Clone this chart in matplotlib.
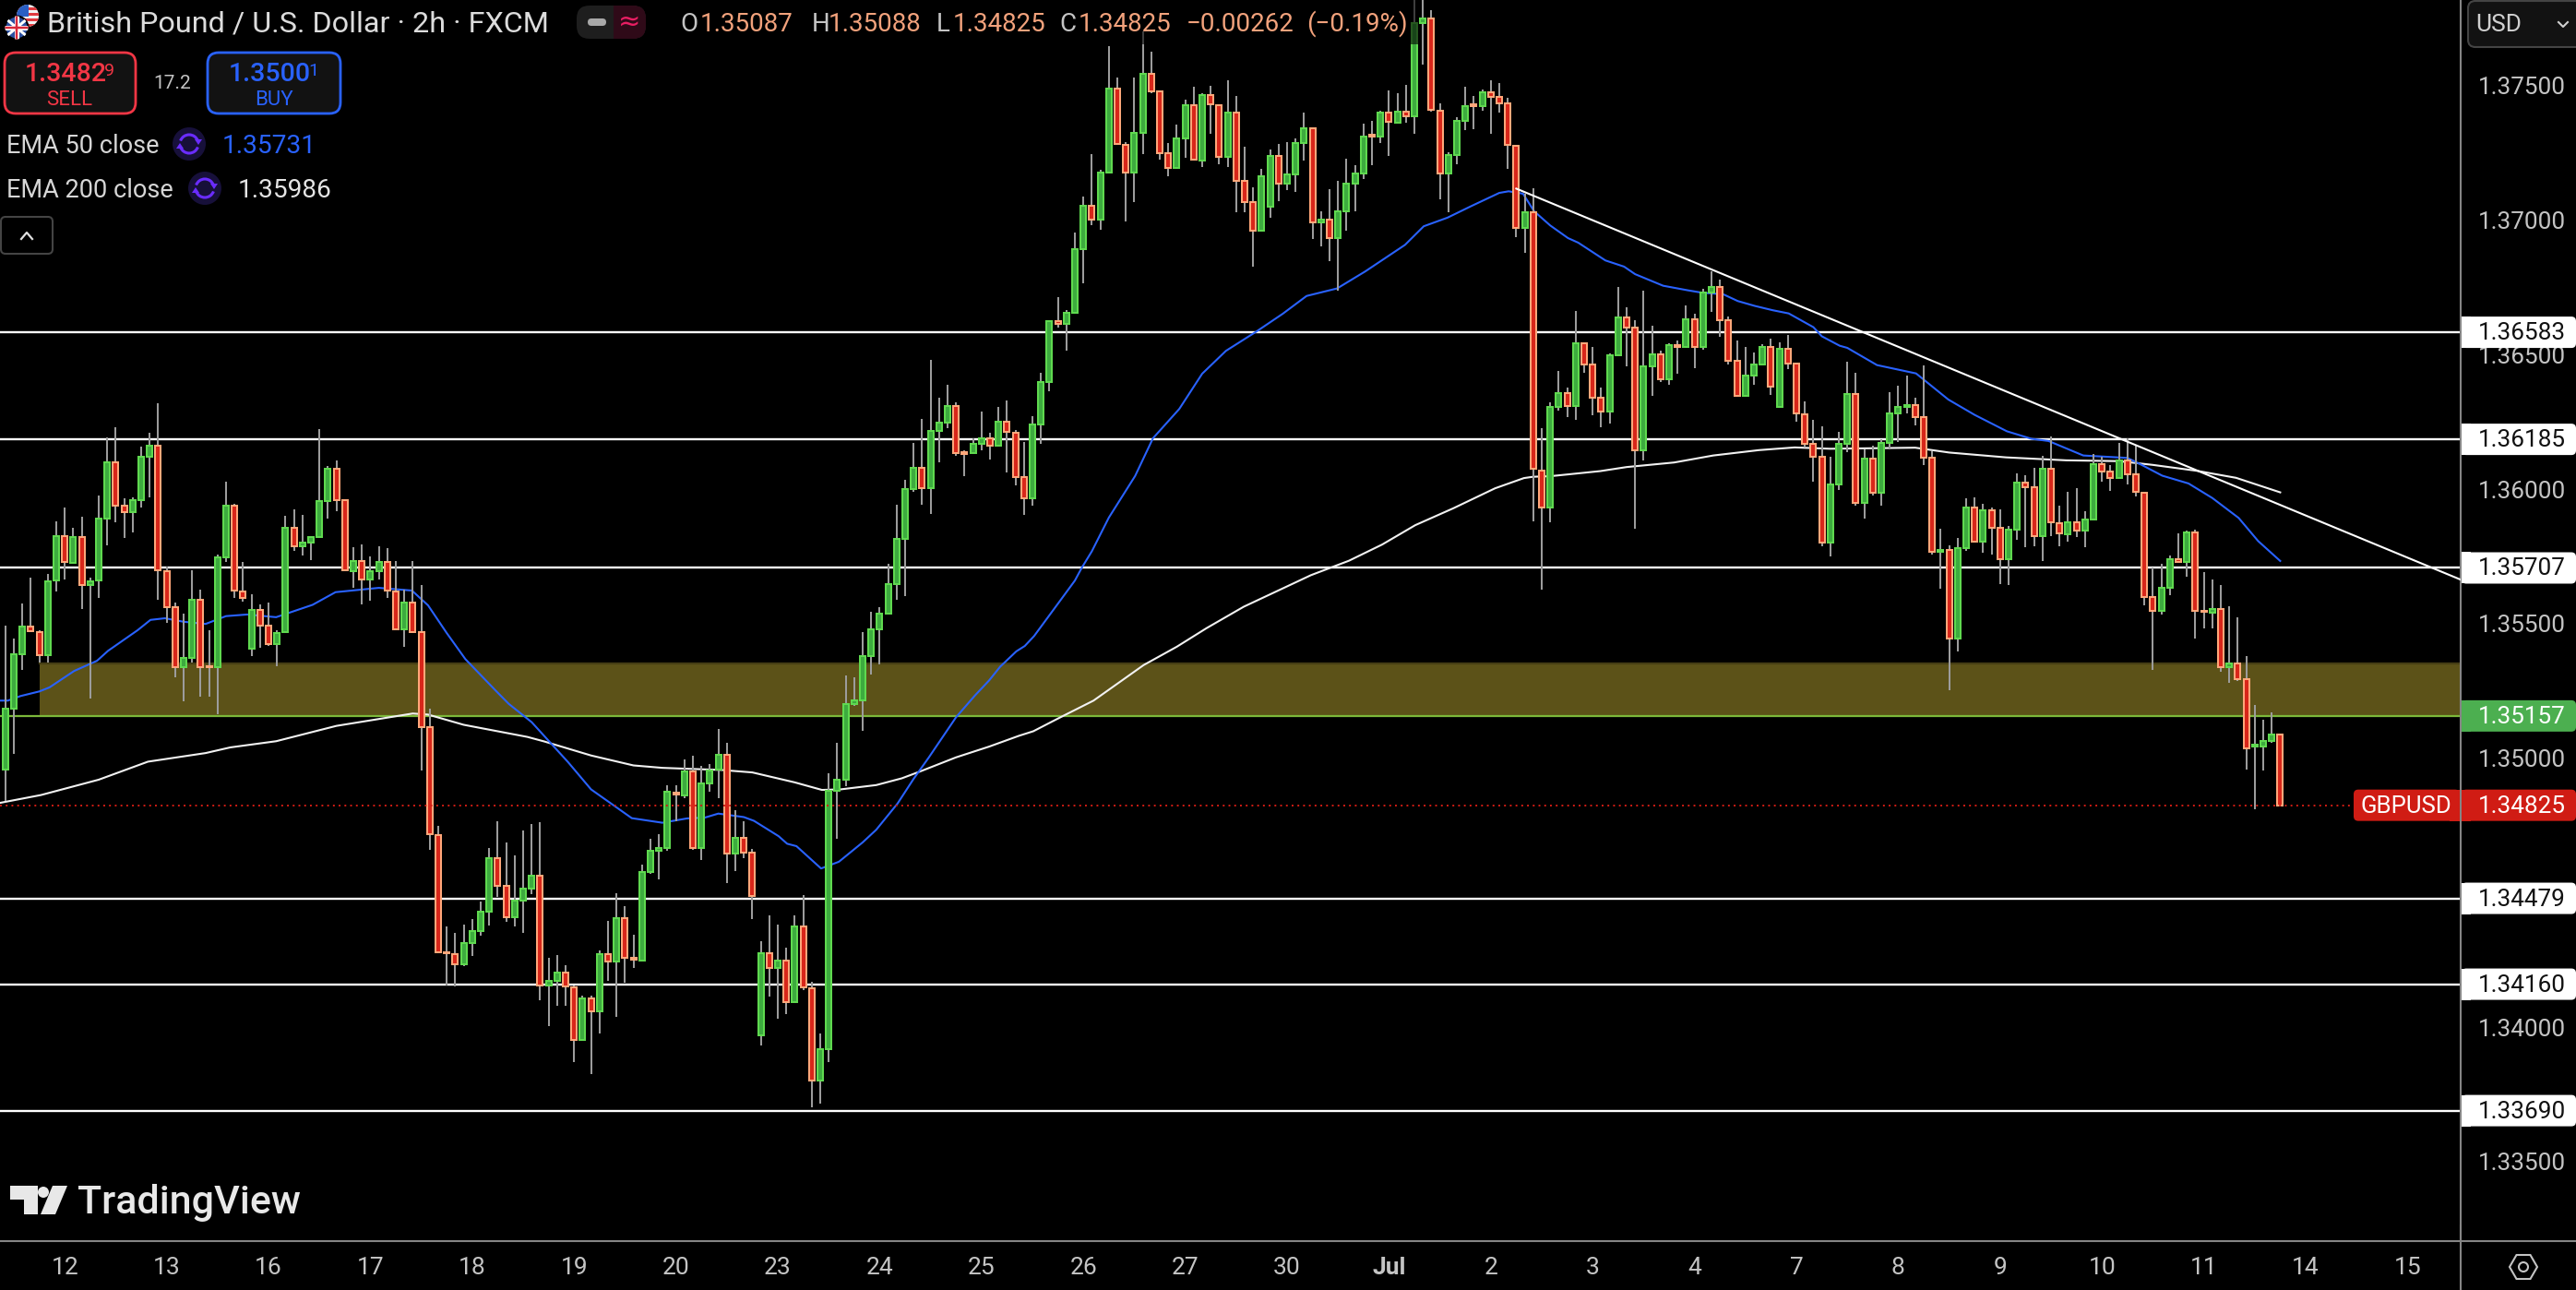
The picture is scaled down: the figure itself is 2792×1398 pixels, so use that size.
import numpy as np
import matplotlib
matplotlib.use('Agg')
import matplotlib.pyplot as plt
from matplotlib.lines import Line2D
from matplotlib.patches import Arc, Circle, FancyBboxPatch, Polygon, Rectangle, RegularPolygon

plt.rcParams['font.family'] = ['Roboto', 'DejaVu Sans']

# GBPUSD 2h candles, price x 1e5
opens = [
    134959, 135185, 135387, 135488, 135468, 135382, 135659, 135825, 135726, 135822,
    135642, 135659, 135891, 136099, 135937, 135913, 135960, 136121, 136161, 135694,
    135560, 135337, 135374, 135588, 135343, 135337, 135747, 135938, 135619, 135408,
    135551, 135491, 135425, 135467, 135856, 135788, 135801, 135823, 135957, 136077,
    135959, 135696, 135732, 135665, 135696, 135728, 135619, 135480, 135579, 135468,
    135116, 134714, 134278, 134271, 134235, 134314, 134358, 134430, 134628, 134525,
    134409, 134471, 134516, 134563, 134154, 134173, 134203, 134148, 133954, 134107,
    134060, 134271, 134245, 134405, 134257, 134249, 134577, 134655, 134667, 134871,
    134862, 134952, 134667, 134907, 134956, 135012, 134644, 134703, 134648, 133971,
    134275, 134219, 134247, 134095, 134374, 134145, 133801, 133919, 134879, 134921,
    135202, 135215, 135379, 135478, 135537, 135646, 135815, 136000, 136078, 136004,
    136216, 136248, 136308, 136137, 136134, 136169, 136189, 136160, 136252, 136208,
    136046, 135967, 136241, 136399, 136623, 136615, 136656, 136892, 137054, 137002,
    137177, 137489, 137279, 137178, 137324, 137544, 137477, 137248, 137195, 137304,
    137428, 137222, 137464, 137426, 137236, 137399, 137145, 137067, 136960, 137051,
    137237, 137134, 137169, 137287, 137341, 136991, 137001, 136932, 137033, 137136,
    137174, 137316, 137312, 137399, 137363, 137403, 137387, 137733, 137749, 137408,
    137174, 137243, 137370, 137429, 137425, 137475, 137458, 137433, 137275, 136972,
    137029, 136070, 135932, 136305, 136356, 136309, 136541, 136463, 136339, 136289,
    136498, 136637, 136599, 136145, 136457, 136500, 136409, 136534, 136528, 136631,
    136529, 136731, 136751, 136627, 136476, 136347, 136423, 136464, 136528, 136306,
    136521, 136465, 136279, 136168, 136119, 135802, 136017, 136169, 136353, 135949,
    136113, 135987, 136172, 136282, 136307, 136312, 136267, 136116, 135767, 135773,
    135445, 135781, 135931, 135805, 135921, 135855, 135739, 135850, 136023, 136006,
    135826, 136075, 135875, 135833, 135876, 135847, 135886, 136092, 136065, 136042,
    136107, 136054, 135988, 135598, 135548, 135632, 135739, 135730, 135839, 135549,
    135541, 135554, 135339, 135351, 135292, 135044, 135044, 135064, 135087,
]
closes = [
    135185, 135385, 135488, 135471, 135382, 135657, 135825, 135728, 135822, 135642,
    135657, 135890, 136099, 135939, 135913, 135959, 136120, 136161, 135697, 135562,
    135337, 135371, 135588, 135339, 135339, 135746, 135938, 135622, 135596, 135551,
    135494, 135425, 135465, 135856, 135788, 135801, 135822, 135954, 136077, 135960,
    135697, 135732, 135665, 135696, 135730, 135622, 135480, 135579, 135470, 135116,
    134716, 134279, 134274, 134235, 134313, 134357, 134429, 134628, 134527, 134409,
    134470, 134515, 134563, 134154, 134171, 134203, 134150, 133954, 134107, 134060,
    134271, 134245, 134405, 134259, 134250, 134577, 134655, 134667, 134875, 134866,
    134952, 134667, 134906, 134955, 135012, 134644, 134703, 134650, 134487, 134275,
    134219, 134247, 134095, 134374, 134147, 133801, 133918, 134878, 134920, 135201,
    135214, 135380, 135479, 135538, 135647, 135815, 136001, 136078, 136004, 136216,
    136248, 136308, 136134, 136132, 136169, 136189, 136160, 136252, 136212, 136046,
    135967, 136241, 136399, 136626, 136615, 136656, 136891, 137054, 137002, 137177,
    137489, 137282, 137178, 137324, 137544, 137479, 137250, 137195, 137303, 137428,
    137223, 137466, 137429, 137236, 137399, 137147, 137068, 136962, 137162, 137237,
    137134, 137169, 137286, 137341, 136991, 137002, 136932, 137033, 137135, 137174,
    137309, 137311, 137399, 137365, 137403, 137387, 137733, 137749, 137409, 137174,
    137241, 137369, 137422, 137424, 137475, 137459, 137435, 137278, 136972, 137029,
    136075, 135932, 136305, 136356, 136310, 136541, 136464, 136341, 136289, 136498,
    136637, 136601, 136145, 136456, 136500, 136409, 136536, 136529, 136631, 136529,
    136730, 136751, 136629, 136477, 136347, 136421, 136463, 136528, 136381, 136521,
    136467, 136280, 136170, 136121, 135802, 136017, 136168, 136353, 135949, 136113,
    135987, 136172, 136281, 136305, 136312, 136268, 136118, 135767, 135773, 135445,
    135780, 135931, 135805, 135922, 135856, 135739, 135850, 136023, 136007, 135826,
    136075, 135878, 135834, 135876, 135847, 135886, 136093, 136065, 136042, 136107,
    136055, 135990, 135599, 135548, 135632, 135739, 135730, 135839, 135546, 135545,
    135554, 135339, 135351, 135293, 135038, 135049, 135063, 135087, 134825,
]
highs = [
    135494, 135444, 135576, 135671, 135476, 135684, 135879, 135930, 135857, 135896,
    135671, 135977, 136191, 136231, 135965, 135968, 136157, 136208, 136320, 135713,
    135579, 135536, 135699, 135625, 135476, 135756, 136029, 135945, 135730, 135610,
    135570, 135579, 135476, 135902, 135926, 135905, 135825, 136222, 136085, 136105,
    135959, 135785, 135795, 135751, 135788, 135782, 135734, 135625, 135734, 135644,
    135185, 134747, 134373, 134349, 134383, 134402, 134468, 134665, 134764, 134685,
    134639, 134730, 134756, 134761, 134259, 134267, 134229, 134156, 134116, 134116,
    134284, 134396, 134497, 134451, 134342, 134605, 134699, 134719, 134901, 134898,
    134996, 135008, 134973, 134977, 135110, 135056, 134807, 134764, 134661, 134318,
    134417, 134380, 134297, 134417, 134490, 134170, 133975, 134945, 135056, 135308,
    135302, 135470, 135545, 135562, 135724, 135942, 136033, 136173, 136262, 136481,
    136341, 136389, 136324, 136143, 136190, 136287, 136211, 136304, 136330, 136219,
    136176, 136271, 136433, 136628, 136712, 136665, 136954, 137088, 137246, 137186,
    137645, 137531, 137291, 137531, 137702, 137627, 137477, 137288, 137354, 137446,
    137495, 137472, 137498, 137428, 137521, 137463, 137273, 137122, 137190, 137262,
    137282, 137290, 137302, 137400, 137341, 137033, 137114, 137147, 137227, 137203,
    137358, 137367, 137407, 137483, 137470, 137501, 137860, 137860, 137781, 137433,
    137253, 137383, 137496, 137463, 137485, 137518, 137508, 137453, 137275, 137098,
    137120, 136225, 136322, 136440, 136379, 136663, 136541, 136530, 136376, 136505,
    136753, 136676, 136628, 136736, 136609, 136513, 136543, 136551, 136684, 136653,
    136743, 136811, 136779, 136642, 136553, 136530, 136509, 136539, 136560, 136545,
    136573, 136465, 136326, 136259, 136234, 136119, 136213, 136474, 136434, 136148,
    136162, 136185, 136361, 136385, 136423, 136341, 136459, 136141, 135853, 135790,
    135819, 135967, 135970, 135944, 135933, 135925, 135864, 136059, 136050, 136079,
    136124, 136196, 135939, 135990, 136005, 135918, 136131, 136119, 136091, 136173,
    136190, 136162, 135988, 135708, 135724, 135752, 135836, 135847, 135851, 135693,
    135664, 135642, 135565, 135525, 135379, 135199, 135144, 135171, 135088,
]
lows = [
    134842, 135016, 135328, 135471, 135356, 135356, 135619, 135664, 135721, 135556,
    135222, 135594, 135791, 135876, 135818, 135839, 135930, 135968, 135588, 135503,
    135299, 135211, 135356, 135228, 135227, 135162, 135728, 135594, 135582, 135378,
    135410, 135416, 135342, 135465, 135770, 135755, 135736, 135822, 135890, 135917,
    135697, 135633, 135570, 135585, 135665, 135596, 135480, 135414, 135470, 134954,
    134659, 134276, 134156, 134153, 134227, 134265, 134339, 134377, 134484, 134390,
    134373, 134350, 134493, 134099, 134004, 134079, 134079, 133870, 133954, 133827,
    133977, 134171, 134038, 134165, 134219, 134244, 134570, 134548, 134655, 134767,
    134851, 134659, 134621, 134875, 134851, 134535, 134579, 134630, 134402, 133933,
    134114, 134030, 134050, 134093, 134139, 133702, 133716, 133870, 134699, 134896,
    135194, 135101, 135310, 135347, 135537, 135590, 135604, 135990, 135943, 135908,
    136101, 136228, 136123, 136048, 136131, 136143, 136110, 136157, 136061, 136015,
    135904, 135939, 136169, 136363, 136602, 136514, 136655, 136766, 136980, 136964,
    137177, 137279, 136996, 137067, 137245, 137472, 137223, 137164, 137193, 137233,
    137220, 137197, 137319, 137207, 137197, 137029, 137029, 136827, 136958, 137009,
    137072, 137111, 137105, 137220, 136930, 136901, 136846, 136737, 136960, 137033,
    137151, 137203, 137288, 137239, 137361, 137363, 137319, 137577, 137403, 137077,
    137029, 137207, 137334, 137338, 137407, 137319, 137400, 137190, 136938, 136878,
    135880, 135627, 135876, 136293, 136267, 136259, 136434, 136276, 136229, 136245,
    136497, 136456, 135853, 136108, 136348, 136397, 136387, 136428, 136527, 136449,
    136519, 136658, 136565, 136463, 136344, 136346, 136387, 136459, 136349, 136306,
    136445, 136250, 136153, 136027, 135787, 135750, 135996, 136137, 135939, 135890,
    135976, 135939, 136147, 136176, 136281, 136236, 136091, 135756, 135630, 135253,
    135396, 135770, 135804, 135765, 135758, 135647, 135642, 135811, 135784, 135787,
    135734, 135824, 135787, 135805, 135823, 135784, 135885, 136027, 135993, 136039,
    136017, 135973, 135567, 135327, 135533, 135605, 135727, 135674, 135445, 135484,
    135482, 135322, 135279, 135287, 134959, 134810, 134954, 135056, 134825,
]

ema50_bars = [
    -0.6, 0.3, 1.8, 4, 5.2, 8.1, 10.8, 12.1, 15.6, 17.1, 18.8, 21, 23.6, 26, 28.5, 31.9, 36.2,
    38.9, 44, 47.9, 49.8, 52, 54.2, 57.8, 59.3, 62, 66.3, 69, 73.8, 77.4, 80.3, 82.4, 84, 87,
    88.2, 91.1, 92.1, 93.2, 96.1, 98.2, 101, 102.6, 105.1, 107, 108.8, 112, 114.2, 115.9, 117.2,
    119.1, 120.1, 121.2, 124, 126, 126.8, 128, 130, 133.1, 135.2, 138.3, 141, 143.8, 147.4,
    150.5, 153.3, 156.9, 160.2, 164.9, 167.1,
    169.9, 172.7, 176, 177.1, 178.8, 180.1, 182, 184.1, 185.3, 188.5, 190.7, 192, 195.3, 198.2,
    199.9, 202.4, 204.1, 206.1, 208.2, 210.1, 213, 214, 216.1, 217, 220.5, 225.1, 228.9, 232,
    235.8, 238.7, 240.7, 244.8, 250, 251.5, 254.1, 257.2, 260, 263.1, 265.4, 268,
]
ema50_vals = [
    135214, 135214, 135231, 135248, 135263, 135324, 135362, 135399, 135476, 135514, 135520,
    135507, 135499, 135528, 135534, 135524, 135570, 135617, 135633, 135623, 135568, 135465,
    135368, 135250, 135202, 135134, 134985, 134884, 134777, 134760, 134776, 134779, 134794,
    134781, 134767, 134710, 134682, 134673, 134590, 134615, 134687, 134734, 134831, 134923,
    135003, 135152, 135232, 135289, 135340, 135397, 135417, 135454, 135574, 135660, 135707,
    135769, 135894, 136049, 136189, 136298, 136429, 136514, 136586,
    136652, 136718, 136746, 136809, 136908, 136977, 137009, 137052, 137101, 137107, 137098,
    137033, 136980, 136933, 136916, 136850, 136827, 136799, 136756, 136739, 136730, 136724,
    136699, 136681, 136665, 136653, 136602, 136568, 136533, 136525, 136461, 136430, 136333,
    136276, 136215, 136187, 136179, 136125, 136116, 136093, 136050, 136021, 135967, 135893,
    135807, 135733,
]
ema200_bars = [
    -0.6, 4.2, 11, 16.8, 23.6, 26.5, 31.9, 39, 48, 49.8, 54, 61.5, 63.5, 69, 74, 77.4, 84.4, 88,
    93, 96.2, 98.4, 102.6, 105.6, 107.8, 112, 115.9, 119.4, 121.1, 124.3, 128.2, 134.1, 138,
    141.5, 145.9, 150.9, 153.8, 158.3, 162.2, 166.1, 170.6, 175.5, 178.9, 180, 182, 187.9, 191,
    196.6, 201.2, 206.6, 210.8, 215, 225, 229, 235.7, 242.8, 249, 253, 258.2, 262.8, 268,
]
ema200_vals = [
    134834, 134863, 134920, 134987, 135019, 135040, 135063, 135120, 135166, 135162, 135124,
    135079, 135062, 135010, 134973, 134964, 134956, 134947, 134910, 134882, 134884, 134900,
    134925, 134951, 135003, 135043, 135083, 135100, 135152, 135214, 135346, 135414, 135483,
    135563, 135637, 135680, 135734, 135794, 135866, 135929, 136003, 136041, 136046, 136048,
    136067, 136082, 136099, 136125, 136145, 136155, 136150, 136154, 136136, 136118, 136107,
    136104, 136090, 136068, 136042, 135988,
]

level_prices = [1.36583, 1.36185, 1.35707, 1.34479, 1.34160, 1.33690]
zone_top = 1.35352
zone_bottom = 1.35157
last_price = 1.34825
trend_bars = [178, 289.3]
trend_prices = [1.37117, 1.35663]

price_ticks = [1.335, 1.34, 1.345, 1.35, 1.355, 1.36, 1.365, 1.37, 1.375]
day_labels = ['12', '13', '16', '17', '18', '19', '20', '23', '24', '25', '26', '27',
              '30', 'Jul', '2', '3', '4', '7', '8', '9', '10', '11', '14', '15']
day_bars = np.arange(len(day_labels)) * 12 + 7

W, H = 2792, 1398
AXIS_X, AXIS_Y = 2667, 1345
BG = '#000000'
GRID = '#858585'
TXT = '#c4c4c4'
RED_BODY, RED_EDGE = '#d8261a', '#ffa77a'
GREEN_BODY, GREEN_EDGE = '#3dab3f', '#5fd94f'
BLUE = '#2962ff'

o = np.array(opens) / 1e5
c = np.array(closes) / 1e5
hi = np.array(highs) / 1e5
lo = np.array(lows) / 1e5
bars = np.arange(len(o))

fig = plt.figure(figsize=(W / 100, H / 100), dpi=100, facecolor=BG)
ax = fig.add_axes([0, (H - AXIS_Y) / H, AXIS_X / W, AXIS_Y / H], facecolor=BG)
ax.set_xlim(-0.63, 289.26)
ax.set_ylim(1.33205, 1.37818)

ax.fill_between([4, 289.26], zone_bottom, zone_top, color='#5c5218', lw=0, zorder=1)
ax.plot([4, 289.26], [zone_top, zone_top], color='#453e14', lw=1.6, zorder=1.1)
ax.plot([-0.63, 289.26], [zone_bottom, zone_bottom], color='#7cb83a', lw=1.6, zorder=2)
for p in level_prices:
    ax.axhline(p, color='#ffffff', lw=1.7, zorder=2)

ax.plot(ema200_bars, np.array(ema200_vals) / 1e5, color='#f2f2f2', lw=1.5, zorder=3)
ax.plot(ema50_bars, np.array(ema50_vals) / 1e5, color=BLUE, lw=1.5, zorder=3)

ax.vlines(bars, lo, hi, color='#9c9c9c', lw=1.45, zorder=4)
up = c >= o
ax.bar(bars[up], (c - o)[up], bottom=o[up], width=0.66, color=GREEN_BODY,
       edgecolor=GREEN_EDGE, lw=1.45, zorder=5)
ax.bar(bars[~up], (c - o)[~up], bottom=o[~up], width=0.66, color=RED_BODY,
       edgecolor=RED_EDGE, lw=1.45, zorder=5)

ax.plot(trend_bars, trend_prices, color='#ffffff', lw=1.5, zorder=5.5)
ax.plot([-0.63, 289.26], [last_price, last_price], color='#d01c14', lw=1.4,
        ls=(0, (1, 2.2)), zorder=6)

ax.set_yticks(price_ticks)
ax.set_yticklabels(['%.5f' % p for p in price_ticks])
ax.yaxis.tick_right()
ax.tick_params(axis='y', length=0, pad=13.5, labelsize=18.8, labelcolor=TXT)
ax.set_xticks(day_bars)
ax.set_xticklabels(day_labels)
ax.tick_params(axis='x', length=0, pad=12, labelsize=19, labelcolor=TXT)
for lab in ax.get_xticklabels():
    if lab.get_text() == 'Jul':
        lab.set_fontweight('bold')
for side in ['left', 'top']:
    ax.spines[side].set_visible(False)
for side in ['right', 'bottom']:
    ax.spines[side].set_color(GRID)
    ax.spines[side].set_linewidth(1.5)

# axis lines carry on to the edge of the window
fig.add_artist(Line2D([AXIS_X / W, AXIS_X / W], [0, 0.05], color=GRID, lw=1.5))
fig.add_artist(Line2D([AXIS_X / W, 1], [(H - AXIS_Y) / H] * 2, color=GRID, lw=1.5))


def price_y(p):
    return H - ax.transData.transform((0, p))[1]


# overlay in screen pixels for the TradingView furniture
ui = fig.add_axes([0, 0, 1, 1], facecolor='none')
ui.set_xlim(0, W)
ui.set_ylim(H, 0)
ui.axis('off')


def box(x0, y0, x1, y1, fc, ec='none', r=10, lw=0):
    ui.add_patch(FancyBboxPatch((x0, y0), x1 - x0, y1 - y0, boxstyle='round,pad=0,rounding_size=%g' % r,
                                fc=fc, ec=ec, lw=lw))


def label(x, y, s, color=TXT, size=18.8, ha='left', **kw):
    ui.text(x, y, s, color=color, fontsize=size, ha=ha, va='center', **kw)


def price_tag(p, s, fc, tc):
    y = price_y(p)
    box(AXIS_X + 1, y - 17, W, y + 17, fc, r=5)
    ui.add_patch(Rectangle((AXIS_X + 1, y - 17), 10, 34, fc=fc, lw=0))
    label(2686, y + 1, s, color=tc)


for p in level_prices:
    price_tag(p, '%.5f' % p, '#ffffff', '#111111')
price_tag(zone_bottom, '1.35157', '#4caf50', '#ffffff')
price_tag(last_price, '1.34825', '#d01c14', '#ffffff')
y_last = price_y(last_price)
box(2551, y_last - 17, AXIS_X - 1, y_last + 17, '#d01c14', r=5)
ui.add_patch(Rectangle((AXIS_X - 12, y_last - 17), 11, 34, fc='#d01c14', lw=0))
label(2608, y_last + 1, 'GBPUSD', color='#ffffff', size=18.5, ha='center')

# legend backdrop dims the candles under the header
ui.add_patch(Rectangle((0, 0), 1538, 48, fc='#000000', alpha=0.6, lw=0))

# flags
us = Circle((30, 17), 12, fc='#f2f2f2', lw=0)
ui.add_patch(us)
for yy in (8, 14, 20, 26):
    r_ = Rectangle((17, yy), 26, 3, fc='#e0393e', lw=0)
    ui.add_patch(r_)
    r_.set_clip_path(us)
canton = Rectangle((17, 5), 14, 13, fc='#2a5fc4', lw=0)
ui.add_patch(canton)
canton.set_clip_path(us)
uk = Circle((18, 30), 12.5, fc='#2a4fa0', ec='#000000', lw=1.5)
ui.add_patch(uk)
for pts, col, w in [([(6, 20), (30, 40)], '#ffffff', 3), ([(6, 40), (30, 20)], '#ffffff', 3),
                    ([(18, 17), (18, 43)], '#ffffff', 5), ([(5, 30), (31, 30)], '#ffffff', 5),
                    ([(18, 17), (18, 43)], '#d8283a', 2.5), ([(5, 30), (31, 30)], '#d8283a', 2.5)]:
    ln, = ui.plot(*zip(*pts), color=col, lw=w * 0.72)
    ln.set_clip_path(uk)

label(51, 26, 'British Pound / U.S. Dollar · 2h · FXCM', color='#dcdcdc', size=23.3)

# session pill
box(625, 6, 700, 42, '#1e1e1e', r=14)
ui.add_patch(Rectangle((665, 6), 25, 36, fc='#2f0a18', lw=0))
box(678, 6, 700, 42, '#2f0a18', r=14)
box(637, 20, 657, 28, '#a8a8a8', r=4)
label(682, 24, '≈', color='#e91e63', size=21, ha='center', family=['DejaVu Sans'])

# OHLC strip
ORANGE = '#f2a27c'
for x, s, col in [(737, 'O', TXT), (759, '1.35087', ORANGE), (880, 'H', TXT), (898, '1.35088', ORANGE),
                  (1015, 'L', TXT), (1033, '1.34825', ORANGE), (1148, 'C', TXT), (1169, '1.34825', ORANGE),
                  (1286, '−0.00262', ORANGE), (1416, '(−0.19%)', ORANGE)]:
    label(x, 26, s, color=col, size=20)

# sell / buy buttons
SELL_RED = '#f23645'
box(5, 57, 147, 123, '#121212', ec=SELL_RED, r=12, lw=2)
box(225, 57, 369, 123, '#121212', ec=BLUE, r=12, lw=2)
label(27, 81, '1.3482', color=SELL_RED, size=20.5, fontweight='medium')
label(113, 77, '9', color=SELL_RED, size=14)
label(75, 108, 'SELL', color=SELL_RED, size=16, ha='center')
label(248, 81, '1.3500', color=BLUE, size=20.5, fontweight='medium')
label(334, 77, '1', color=BLUE, size=14)
label(297, 108, 'BUY', color=BLUE, size=16, ha='center')
label(187, 91, '17.2', size=15, ha='center')

# indicator rows
for x_icon, y_row, name, val, col in [(205, 158, 'EMA 50 close', '1.35731', BLUE),
                                      (222, 206, 'EMA 200 close', '1.35986', '#e4e4e4')]:
    label(7, y_row, name, color='#d6d6d6', size=19.5)
    yc = y_row - 2
    ui.add_patch(Circle((x_icon, yc), 18, fc='#17103a', lw=0))
    ui.add_patch(Arc((x_icon, yc), 20, 20, theta1=200, theta2=340, ec='#6a2cff', lw=2.2))
    ui.add_patch(Arc((x_icon, yc), 20, 20, theta1=20, theta2=160, ec='#6a2cff', lw=2.2))
    ui.add_patch(Polygon([(x_icon + 6, yc - 5), (x_icon + 14, yc - 5), (x_icon + 10, yc + 1)], fc='#6a2cff', lw=0))
    ui.add_patch(Polygon([(x_icon - 14, yc + 5), (x_icon - 6, yc + 5), (x_icon - 10, yc - 1)], fc='#6a2cff', lw=0))
    label(x_icon + 36, y_row, val, color=col, size=20.2)

# collapse button
box(1, 235, 57, 275, '#000000', ec='#444444', r=5, lw=1.5)
ui.plot([23, 29, 35], [259, 252, 259], color='#e0e0e0', lw=1.6)

# currency button
box(2675, 1, W + 8, 51, '#121212', ec='#444444', r=8, lw=1.5)
label(2683, 27, 'USD', color='#d0d0d0', size=19)
ui.plot([2773, 2778, 2783], [24, 29, 24], color='#d0d0d0', lw=1.5)

# settings icon
ui.add_patch(RegularPolygon((2735, 1373), 6, radius=15, orientation=np.pi / 2, fc='none', ec=TXT, lw=1.5))
ui.add_patch(Circle((2735, 1373), 5, fc='none', ec=TXT, lw=1.5))

# TradingView logo
LOGO = '#e8e8e8'
ui.add_patch(Polygon([(11, 1285), (41, 1285), (41, 1316), (26, 1316), (26, 1300), (11, 1300)], fc=LOGO, lw=0))
ui.add_patch(Circle((47, 1292), 6, fc=LOGO, lw=0))
ui.add_patch(Polygon([(57, 1285), (73, 1285), (60, 1316), (44, 1316)], fc=LOGO, lw=0))
label(84, 1304, 'TradingView', color=LOGO, size=31, fontweight='medium')

fig.savefig('out.png', dpi=100, facecolor=BG)
